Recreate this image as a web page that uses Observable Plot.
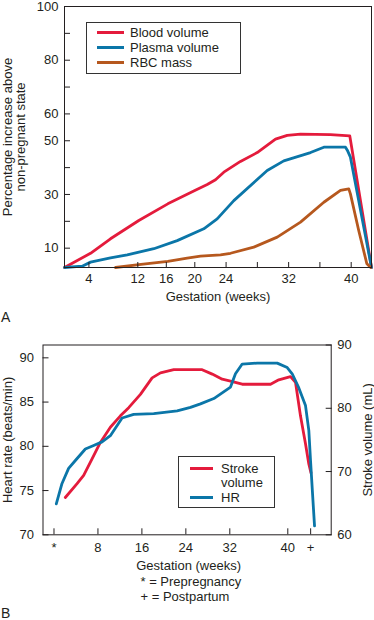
<!DOCTYPE html>
<html>
<head>
<meta charset="utf-8">
<script src="https://cdn.jsdelivr.net/npm/d3@7"></script>
<script src="https://cdn.jsdelivr.net/npm/@observablehq/plot@0.6"></script>
<style>
  body { margin: 0; background: #fff; font-family: "Liberation Sans", Arial, Helvetica, sans-serif; color: #231f20; }
  #root { position: relative; width: 374px; height: 620px; overflow: hidden; }
  .panel { position: absolute; font-size: 14px; line-height: 14px; left: 1px; }
  .legend { position: absolute; border: 1px solid #333; background: #fff; font-size: 13px; box-sizing: border-box; }
  .row { display: flex; align-items: center; white-space: nowrap; }
  .sw { height: 3px; flex: none; }
</style>
</head>
<body>
<div id="root"></div>
<script>
// ---------- Panel A data (gestation in weeks, % increase above non-pregnant state) ----------
const weeksBlood   = [0, 4.26, 7.53, 12.14, 16.21, 20, 21.59, 22.65, 23.71, 25.84, 27.98, 30.32, 31.82, 33.52, 37.35, 39.82, 42.7];
const bloodVolume  = [2.8, 8.1, 13.5, 20.3, 26.5, 31.5, 33.7, 35.5, 38.3, 42.3, 45.6, 50.6, 52.0, 52.5, 52.3, 51.8, 2.8];
const weeksPlasma  = [0, 2.9, 4.26, 7.53, 10.27, 14.25, 17.53, 21.15, 22.86, 24.99, 29.26, 31.38, 34.8, 36.5, 39.27, 39.5, 39.9, 42.7];
const plasmaVolume = [2.8, 3.3, 4.8, 6.4, 7.5, 9.8, 12.8, 17.2, 20.9, 27.7, 38.9, 42.5, 45.6, 47.6, 47.6, 46.5, 43.9, 2.8];
const weeksRbc     = [8.35, 12.14, 16.21, 18.93, 20.73, 23.29, 24.57, 27.54, 30.54, 33.52, 36.5, 38.63, 39.69, 39.9, 41.0, 42.08, 42.6];
const rbcMass      = [2.8, 3.9, 5.1, 6.3, 7.0, 7.5, 8.1, 10.4, 14.1, 19.7, 27.1, 31.5, 32.1, 30.2, 16.6, 4.2, 2.8];
const seriesA      = ["Blood volume", "Plasma volume", "RBC mass"];
const ticksAx      = [4, 12, 16, 20, 24, 28, 32, 36, 40];
const labelsAx     = [4, 12, 16, 20, 24, 32, 40];
const ticksAy      = [10, 20, 30, 40, 50, 60, 70, 80, 90, 100];
const labelsAy     = [10, 30, 50, 60, 80, 100];

// ---------- Panel B data ----------
const weeksHR      = [0.42, 1.46, 2.66, 3.89, 5.71, 7.22, 8.75, 10.26, 12.4, 14.5, 18.15, 22.42, 24.84, 26.66, 29.09, 32.1, 32.78, 33.71, 35.78, 38.54, 39.92, 40.77, 41.93, 43.1, 43.68, 43.98, 44.27, 44.68];
const heartRate    = [73.5, 75.8, 77.5, 78.4, 79.7, 80.1, 80.5, 81.2, 83.2, 83.6, 83.7, 84.0, 84.4, 84.8, 85.4, 86.7, 88.2, 89.3, 89.4, 89.4, 88.9, 88.2, 86.6, 84.6, 81.8, 78.4, 75.3, 71.0];
const weeksSV      = [2.06, 4.2, 5.4, 6.93, 8.44, 10.26, 12.09, 13.6, 15.73, 17.86, 19.38, 21.8, 26.97, 28.8, 30.62, 32.1, 33.71, 37.62, 38.76, 40.47, 41.35, 42.22, 43.1, 43.68, 44.06];
const strokeVolume = [65.9, 68.1, 69.4, 72.0, 74.6, 77.0, 78.8, 80.1, 82.2, 84.8, 85.6, 86.1, 86.1, 85.4, 84.6, 84.3, 83.8, 83.8, 84.5, 85.0, 84.1, 78.8, 74.4, 71.2, 69.8];
const seriesB      = ["Stroke volume", "HR"];
const ticksBx      = [0, 8, 16, 24, 32, 40, 44];
const labelsBx     = ["*", "8", "16", "24", "32", "40", "+"];
const ticksHR      = [70, 75, 80, 85, 90];
const ticksSV      = [60, 70, 80, 90];
const footnotes    = ["* = Prepregnancy", "+ = Postpartum"];

// ---------- styles ----------
const ink = "#231f20";
const RED = "#e41b3c", BLUE = "#0b76a8", BROWN = "#b6581e";
const colorsA = [RED, BLUE, BROWN];
const font = "'Liberation Sans', Arial, Helvetica, sans-serif";
const baseStyle = {fontSize: "13px", fontFamily: font, color: ink, background: "transparent", overflow: "visible"};

const rowsA = [
  ...weeksBlood.map((w, i) => ({series: seriesA[0], week: w, value: bloodVolume[i]})),
  ...weeksPlasma.map((w, i) => ({series: seriesA[1], week: w, value: plasmaVolume[i]})),
  ...weeksRbc.map((w, i) => ({series: seriesA[2], week: w, value: rbcMass[i]}))
];

const plotA = Plot.plot({
  width: 374, height: 305,
  marginLeft: 64, marginRight: 3, marginTop: 6, marginBottom: 38,
  style: baseStyle,
  x: {type: "linear", domain: [0, 12, 20, 40, 42.7], range: [64, 137.3, 194.3, 350.7, 371]},
  y: {domain: [2.8, 100]},
  color: {domain: seriesA, range: colorsA},
  marks: [
    Plot.line(rowsA, {x: "week", y: "value", z: "series", stroke: "series", strokeWidth: 2.8, strokeLinejoin: "round", strokeLinecap: "round"}),
    Plot.frame({stroke: ink}),
    Plot.axisX(ticksAx, {tickSize: -5, fill: "none", label: null}),
    Plot.axisX(labelsAx, {tickSize: 0, tickPadding: 6, label: null}),
    Plot.axisY(ticksAy, {tickSize: -6, fill: "none", label: null}),
    Plot.axisY(labelsAy, {tickSize: 0, tickPadding: 6, label: null}),
    Plot.text(["Percentage increase above\nnon-pregnant state"], {text: d => d, frameAnchor: "left", textAnchor: "middle", lineAnchor: "middle", rotate: -90, dx: -50, lineHeight: 1}),
    Plot.text(["Gestation (weeks)"], {text: d => d, frameAnchor: "bottom", textAnchor: "middle", lineAnchor: "middle", dy: 29.7})
  ]
});

// Panel B: stroke volume drawn against the heart-rate scale through a linear mapping
const hrDomain = [70, 91.45];
const svDomain = [60, 90];
const svToHr = d3.scaleLinear(svDomain, hrDomain);
const hrRows = weeksHR.map((w, i) => ({week: w, value: heartRate[i]}));
const svRows = weeksSV.map((w, i) => ({week: w, value: strokeVolume[i]}));
const labelFor = new Map(ticksBx.map((t, i) => [t, labelsBx[i]]));

const plotB = Plot.plot({
  width: 374, height: 290,
  marginLeft: 42.5, marginRight: 43.3, marginTop: 14.5, marginBottom: 85.7,
  style: baseStyle,
  x: {type: "linear", domain: [-2, 32, 40, 47.6], range: [42.5, 229.3, 287.3, 330.7]},
  y: {domain: hrDomain},
  marks: [
    Plot.line(svRows, {x: "week", y: d => svToHr(d.value), stroke: RED, strokeWidth: 2.8, strokeLinejoin: "round"}),
    Plot.line(hrRows, {x: "week", y: "value", stroke: BLUE, strokeWidth: 2.8, strokeLinejoin: "round"}),
    Plot.frame({stroke: ink}),
    Plot.axisX(ticksBx, {tickSize: -6, fill: "none", label: null}),
    Plot.axisX(ticksBx, {tickSize: 0, tickPadding: 8, tickFormat: d => labelFor.get(d), label: null}),
    Plot.axisY(ticksHR, {tickSize: -6, fill: "none", label: null}),
    Plot.axisY(ticksHR, {tickSize: 0, tickPadding: 9, label: null}),
    Plot.axisY(ticksSV, {anchor: "right", y: d => svToHr(d), tickSize: -6, fill: "none", label: null}),
    Plot.axisY(ticksSV, {anchor: "right", y: d => svToHr(d), tickFormat: d => String(d), tickSize: 0, tickPadding: 6, label: null}),
    Plot.text(["Heart rate (beats/min)"], {text: d => d, frameAnchor: "left", textAnchor: "middle", lineAnchor: "middle", rotate: -90, dx: -35.5}),
    Plot.text(["Stroke volume (mL)"], {text: d => d, frameAnchor: "right", textAnchor: "middle", lineAnchor: "middle", rotate: -90, dx: 36.5}),
    Plot.text(["Gestation (weeks)"], {text: d => d, frameAnchor: "bottom", textAnchor: "middle", lineAnchor: "middle", dx: 1.5, dy: 30.7}),
    Plot.text([footnotes.join("\n")], {text: d => d, frameAnchor: "bottom-left", textAnchor: "start", lineAnchor: "middle", dx: 97.5, dy: 53.7, lineHeight: 1.15})
  ]
});

// ---------- layout ----------
const root = document.getElementById("root");
function place(el, left, top) { el.style.position = "absolute"; el.style.left = left + "px"; el.style.top = top + "px"; root.appendChild(el); }
place(plotA, 0, 0);
place(plotB, 0, 330);

function panelLabel(t, top) { const d = document.createElement("div"); d.className = "panel"; d.textContent = t; d.style.top = top + "px"; root.appendChild(d); }
panelLabel("A", 310);
panelLabel("B", 606);

function legend(items, box) {
  const lg = document.createElement("div");
  lg.className = "legend";
  Object.assign(lg.style, {left: box.left + "px", top: box.top + "px", width: box.width + "px", height: box.height + "px", paddingTop: box.padTop + "px"});
  for (const it of items) {
    const r = document.createElement("div");
    r.className = "row";
    r.style.height = box.rowH + "px";
    const s = document.createElement("div");
    s.className = "sw";
    Object.assign(s.style, {width: box.swW + "px", marginLeft: box.swL + "px", marginRight: box.gap + "px", background: it.color || "transparent"});
    const t = document.createElement("span");
    t.textContent = it.label;
    r.appendChild(s); r.appendChild(t);
    lg.appendChild(r);
  }
  root.appendChild(lg);
}
legend(seriesA.map((s, i) => ({label: s, color: colorsA[i]})), {left: 86, top: 22, width: 155, height: 52, padTop: 2, rowH: 15, swW: 27, swL: 10, gap: 6});
legend([{label: "Stroke", color: RED}, {label: "volume", color: null}, {label: seriesB[1], color: BLUE}], {left: 178, top: 456, width: 97, height: 52, padTop: 4, rowH: 14.5, swW: 23, swL: 11, gap: 8});
</script>
</body>
</html>
